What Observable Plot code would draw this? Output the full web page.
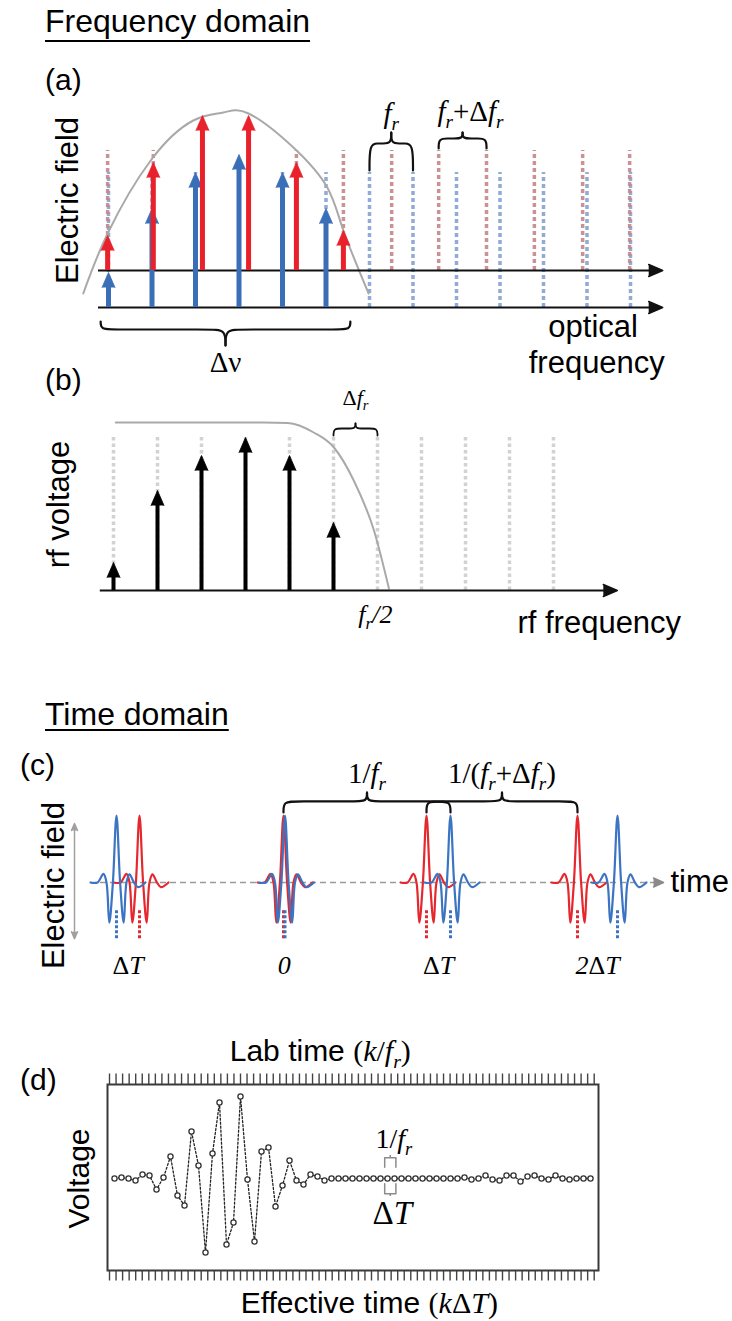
<!DOCTYPE html>
<html>
<head>
<meta charset="utf-8">
<script src="https://cdn.jsdelivr.net/npm/d3@7"></script>
<script src="https://cdn.jsdelivr.net/npm/@observablehq/plot@0.6"></script>
<style>
  html, body { margin: 0; padding: 0; background: #fff; }
  #page { position: relative; width: 732px; height: 1321px; overflow: hidden; background: #fff;
          font-family: "Liberation Sans", Arial, Helvetica, sans-serif; color: #000; }
  .txt { position: absolute; white-space: nowrap; line-height: 1; }
  .head { font-size: 32px; text-decoration: underline; text-decoration-thickness: 2px; text-decoration-skip-ink: none; }
  .tag { font-size: 30px; }
</style>
</head>
<body>
<div id="page"></div>
<script>
// ====================== DATA ======================
// (a) two optical frequency combs; positions in units of the blue comb spacing f_r
const combBlue = [0, 1, 2, 3, 4, 5, 6, 7, 8, 9, 10, 11, 12];
const combRed = [-0.02, 1.03, 2.16, 3.22, 4.32, 5.40, 6.51, 7.59, 8.69, 9.79, 10.90, 11.98];
const fieldBlue = [3.5, 9.9, 13.5, 15.3, 13.5, 9.9];      // arrow heights of blue lines 0-5
const fieldRed = [3.5, 10.8, 15.5, 15.5, 10.8, 4.0];      // arrow heights of red lines 0-5
const spectrumEnvelope = [[-0.58, 1.4], [-0.02, 7.4], [0.97, 14.7], [1.95, 18.7], [2.64, 19.5],
                          [3.22, 19.4], [4.25, 16.0], [5.03, 12.0], [5.40, 7.7], [5.98, 1.4]];
const textA = { yLabel: "Electric field", x1: "optical", x2: "frequency", width: "Δν",
                fr: "*f*_r", frd: "*f*_r+Δ*f*_r" };

// (b) rf comb after heterodyning
const combRf = [0, 1, 2, 3, 4, 5, 6, 7, 8, 9, 10];
const rfVoltage = [2.8, 10.0, 13.5, 15.3, 13.5, 6.8];
const rfEnvelope = [[0.05, 16.8], [1.98, 16.8], [3.40, 16.8], [3.96, 16.75], [4.55, 15.8],
                    [5.01, 14.3], [5.46, 11.0], [5.92, 6.0], [6.26, 0.2]];
const textB = { yLabel: "rf voltage", xLabel: "rf frequency", dfr: "Δ*f*_r", half: "*f*_r*/2*" };

// (c) pulse trains (time units), pulse shape
const peaksRed = [-14.4, 0, 14.3, 29.4];
const peaksBlue = [-16.7, 0.15, 16.7, 33.4];
const pulseDt = [-2.6, -1.9, -1.3, -1.0, -0.72, -0.36, 0, 0.36, 0.72, 1.0, 1.3, 1.75, 2.15, 2.9];
const pulseField = [0, 0, 0.13, 0, -0.6, 0, 1, 0, -0.6, 0, 0.12, 0, -0.07, 0];
const delayLabels = ["Δ*T*", "*0*", "Δ*T*", "*2*Δ*T*"];
const textC = { yLabel: "Electric field", xLabel: "time", period: "1/*f*_r", period2: "1/(*f*_r+Δ*f*_r)" };

// (d) sampled interferogram
const voltageSamples = [0, 1, 0, -2, 4, 3, -11, 1, 22, -17, -27, 47, 13, -74, 25, 76, -66, -44, 82, -1,
  -63, 27, 31, -28, -7, 18, -2, -6, 4, 2, -2, 0, 0, 0,
  0, 0, 0, 0, 0, 0, 0, 0, 0, 0, 0, 0, 0, 0, 0, 0,
  1, -1, 0, 3, -1, -2, 3, 3, -3, 2, 3, 0, -1, 3, 0, -1, 0, 0, 0];
const labTickCount = 75;
const textD = { yLabel: "Voltage", top: "Lab time ~(*k*/*f*_r)~", bottom: "Effective time ~(*k*Δ*T*)~",
                step1: "1/*f*_r", step2: "Δ*T*" };

// ====================== STYLE / LAYOUT ======================
const W = 732;
const SANS = '"Liberation Sans", Arial, Helvetica, sans-serif';
const SERIF = '"Liberation Serif", "Times New Roman", Times, serif';
const RED = "#e8212b", BLUE = "#3a6eb7";
const RED_DASH = "#c4868a", BLUE_DASH = "#8fabd6";
const RED_P = "#e5282e", BLUE_P = "#3b74c2";
const ENV = "#a9a9a9", GRAY_DOT = "#d2d2d2";

const page = document.getElementById("page");
function htmlText(text, cls, left, base, size) {
  const d = document.createElement("div");
  d.className = "txt " + cls;
  d.textContent = text;
  d.style.left = left + "px";
  d.style.top = (base - 0.8465 * size) + "px";
  page.appendChild(d);
  return d;
}
const h1 = htmlText("Frequency domain", "head", 45, 32, 32); h1.style.textUnderlineOffset = "8px";
const h2 = htmlText("Time domain", "head", 45, 725, 32); h2.style.textUnderlineOffset = "4px";
htmlText("(a)", "tag", 45, 90, 30);
htmlText("(b)", "tag", 45, 390, 30);
htmlText("(c)", "tag", 20, 775, 30);
htmlText("(d)", "tag", 20, 1090, 30);

function xDomain(px0, unit) { return [(0 - px0) / unit, (W - px0) / unit]; }
function yDomain(top, height, py0, unit) { return [(py0 - top - height) / unit, (py0 - top) / unit]; }

function arrowMarks(data, o) {
  return [
    Plot.ruleX(data, {x: "x", y1: "tip", y2: "base", stroke: o.color, strokeWidth: o.width, insetTop: o.len * 0.7}),
    Plot.vector(data, {x: "x", y: "tip", length: o.len, r: o.r, shape: "spike", anchor: "end",
                       fill: o.color, stroke: o.color, strokeWidth: 0.8})
  ];
}
function bracePoints(list) {
  const pts = [];
  list.forEach((b, i) => {
    const xc = (b.x1 + b.x2) / 2;
    [b.x1, b.x2].forEach((xe, s) => {
      const d = (xc - xe) * b.curl;
      const id = i + "-" + s;
      [[xe, b.yEnd], [xe, b.yMid], [xe + d, b.yMid], [xc - d, b.yMid], [xc, b.yMid], [xc, b.yTip]]
        .forEach(([x, y]) => pts.push({x, y, id}));
    });
  });
  return pts;
}
function braceMark(list, color, width) {
  return Plot.line(bracePoints(list), {x: "x", y: "y", z: "id", curve: "basis", stroke: color, strokeWidth: width});
}
function label(s, x, y, o) {
  return Plot.text([{x, y, s}], Object.assign({x: "x", y: "y", text: "s", fill: "#000"}, o));
}
function mount(svg, top) {
  svg.style.position = "absolute";
  svg.style.left = "0px";
  svg.style.top = top + "px";
  svg.style.overflow = "visible";
  svg.style.maxWidth = "none";
  page.appendChild(svg);
  richify(svg);
}
// tiny markup: *italic*, ~serif~, _x subscript
function richify(root) {
  root.querySelectorAll("text").forEach(t => {
    const s = t.textContent;
    if (!/[*_~]/.test(s)) return;
    const fs = parseFloat(getComputedStyle(t).fontSize) || 20;
    let italic = false, serif = false;
    const runs = [];
    for (let i = 0; i < s.length; i++) {
      const c = s[i];
      if (c === "*") { italic = !italic; continue; }
      if (c === "~") { serif = !serif; continue; }
      if (c === "_") { runs.push({text: s[++i], italic: true, serif, sub: true}); continue; }
      const last = runs[runs.length - 1];
      if (last && !last.sub && last.italic === italic && last.serif === serif) last.text += c;
      else runs.push({text: c, italic, serif, sub: false});
    }
    t.textContent = "";
    let shifted = 0;
    runs.forEach(r => {
      const ts = document.createElementNS("http://www.w3.org/2000/svg", "tspan");
      ts.textContent = r.text;
      if (r.italic) ts.setAttribute("font-style", "italic");
      if (r.serif) ts.setAttribute("font-family", SERIF);
      const target = r.sub ? 0.26 * fs : 0;
      if (target !== shifted) { ts.setAttribute("dy", (target - shifted).toFixed(2)); shifted = target; }
      if (r.sub) ts.setAttribute("font-size", (0.66 * fs).toFixed(1));
      t.appendChild(ts);
    });
  });
}

// ====================== (a) ======================
const A = {top: 40, height: 350, x0: 108, xUnit: 43.5, y0: 307, yUnit: 10,
           redBase: 3.7, dashTopBlue: 13.5, dashTopRed: 15.7, axis: [-0.23, 12.74]};
const arrowsBlueA = fieldBlue.map((v, i) => ({x: combBlue[i], base: 0, tip: v}));
const arrowsRedA = fieldRed.map((v, i) => ({x: combRed[i], base: A.redBase, tip: A.redBase + v}));
const bracesA = [
  {x1: -0.18, x2: 5.56, yEnd: -1.4, yMid: -2.2, yTip: -3.8, curl: 0.12},
  {x1: combBlue[6], x2: combBlue[7], yEnd: 13.7, yMid: 16.4, yTip: 17.5, curl: 0.4},
  {x1: combRed[7], x2: combRed[8], yEnd: 15.9, yMid: 16.9, yTip: 17.5, curl: 0.4}
];
const plotA = Plot.plot({
  width: W, height: A.height, margin: 0,
  x: {domain: xDomain(A.x0, A.xUnit), axis: null},
  y: {domain: yDomain(A.top, A.height, A.y0, A.yUnit), axis: null},
  style: {fontFamily: SANS, background: "transparent"},
  marks: [
    Plot.ruleX(combBlue, {y1: 0, y2: A.dashTopBlue, stroke: BLUE_DASH, strokeWidth: 3.5, strokeDasharray: "4,3"}),
    Plot.ruleX(combRed, {y1: A.redBase, y2: A.dashTopRed, stroke: RED_DASH, strokeWidth: 3.5, strokeDasharray: "4,3", strokeOpacity: 0.9}),
    Plot.line(spectrumEnvelope, {x: d => d[0], y: d => d[1], curve: "natural", stroke: ENV, strokeWidth: 2}),
    Plot.ruleY([0, A.redBase], {x1: A.axis[0], x2: A.axis[1], insetRight: 6, stroke: "#111", strokeWidth: 2}),
    Plot.vector([0, A.redBase], {x: A.axis[1], y: d => d, rotate: 90, length: 14, r: 6, shape: "spike", anchor: "end", fill: "#111", stroke: "#111"}),
    ...arrowMarks(arrowsBlueA, {color: BLUE, width: 5, len: 15, r: 6.5}),
    ...arrowMarks(arrowsRedA, {color: RED, width: 5, len: 15, r: 6.5}),
    braceMark(bracesA, "#111", 2.2),
    label(textA.yLabel, -0.71, 10.7, {rotate: -90, textAnchor: "middle", lineAnchor: "bottom", fontSize: 31}),
    label(textA.x1, 10.11, -2.9, {textAnchor: "start", lineAnchor: "bottom", fontSize: 31}),
    label(textA.x2, 9.66, -6.5, {textAnchor: "start", lineAnchor: "bottom", fontSize: 31}),
    label(textA.width, 2.69, -6.4, {textAnchor: "middle", lineAnchor: "bottom", fontSize: 29, fontFamily: SERIF}),
    label(textA.fr, (combBlue[6] + combBlue[7]) / 2, 18.5, {textAnchor: "middle", lineAnchor: "bottom", fontSize: 29, fontFamily: SERIF}),
    label(textA.frd, 8.32, 18.7, {textAnchor: "middle", lineAnchor: "bottom", fontSize: 29, fontFamily: SERIF})
  ]
});
mount(plotA, A.top);

// ====================== (b) ======================
const B = {top: 390, height: 270, x0: 113, xUnit: 44, y0: 590, yUnit: 10, dashTop: 15.3, axis: [-0.3, 11.45]};
const arrowsB = rfVoltage.map((v, i) => ({x: combRf[i], base: 0, tip: v}));
const bracesB = [{x1: combRf[5], x2: combRf[6], yEnd: 15.5, yMid: 16.2, yTip: 16.7, curl: 0.4}];
const plotB = Plot.plot({
  width: W, height: B.height, margin: 0,
  x: {domain: xDomain(B.x0, B.xUnit), axis: null},
  y: {domain: yDomain(B.top, B.height, B.y0, B.yUnit), axis: null},
  style: {fontFamily: SANS, background: "transparent"},
  marks: [
    Plot.ruleX(combRf, {y1: 0, y2: B.dashTop, stroke: GRAY_DOT, strokeWidth: 3.5, strokeDasharray: "3.5,3"}),
    Plot.line(rfEnvelope, {x: d => d[0], y: d => d[1], curve: "monotone-x", stroke: ENV, strokeWidth: 2}),
    Plot.ruleY([0], {x1: B.axis[0], x2: B.axis[1], insetRight: 6, stroke: "#111", strokeWidth: 2}),
    Plot.vector([0], {x: B.axis[1], y: d => d, rotate: 90, length: 14, r: 6, shape: "spike", anchor: "end", fill: "#111", stroke: "#111"}),
    ...arrowMarks(arrowsB, {color: "#000", width: 4, len: 15, r: 6.5}),
    braceMark(bracesB, "#111", 1.8),
    label(textB.yLabel, -1.02, 8.6, {rotate: -90, textAnchor: "middle", lineAnchor: "bottom", fontSize: 31}),
    label(textB.dfr, (combRf[5] + combRf[6]) / 2, 18.6, {textAnchor: "middle", lineAnchor: "bottom", fontSize: 22, fontFamily: SERIF}),
    label(textB.half, 5.95, -3.2, {textAnchor: "middle", lineAnchor: "bottom", fontSize: 26, fontFamily: SERIF}),
    label(textB.xLabel, 9.18, -4.2, {textAnchor: "start", lineAnchor: "bottom", fontSize: 31})
  ]
});
mount(plotB, B.top);

// ====================== (c) ======================
const C = {top: 700, height: 300, x0: 283, xUnit: 10, y0: 882, yUnit: 67,
           axis: [-19.3, 38.0], scaleBar: {t: -20.9, lo: -0.84, hi: 0.88}, marker: [-0.42, -0.87]};
function pulseTrain(peaks, tag) {
  const out = [];
  peaks.forEach((p, j) => pulseDt.forEach((dt, i) => out.push({t: p + dt, v: pulseField[i], id: tag + j})));
  return out;
}
const bracesC = [
  {x1: peaksRed[1], x2: peaksBlue[2], yEnd: 1.045, yMid: 1.21, yTip: 1.34, curl: 0.15},
  {x1: peaksRed[2], x2: peaksRed[3], yEnd: 1.045, yMid: 1.21, yTip: 1.34, curl: 0.15}
];
const plotC = Plot.plot({
  width: W, height: C.height, margin: 0,
  x: {domain: xDomain(C.x0, C.xUnit), axis: null},
  y: {domain: yDomain(C.top, C.height, C.y0, C.yUnit), axis: null},
  style: {fontFamily: SANS, background: "transparent"},
  marks: [
    Plot.ruleY([0], {x1: C.axis[0], x2: C.axis[1], insetRight: 8, stroke: "#9a9a9a", strokeWidth: 1.5, strokeDasharray: "6,4"}),
    Plot.vector([0], {x: C.axis[1], y: d => d, rotate: 90, length: 10, r: 4.5, shape: "spike", anchor: "end", fill: "#8a8a8a", stroke: "#8a8a8a"}),
    Plot.ruleX([C.scaleBar.t], {y1: C.scaleBar.hi, y2: C.scaleBar.lo, insetTop: 4, insetBottom: 4, stroke: "#a0a0a0", strokeWidth: 1.5}),
    Plot.vector([{y: C.scaleBar.hi, a: 0}, {y: C.scaleBar.lo, a: 180}], {x: C.scaleBar.t, y: "y", rotate: "a", length: 7, r: 3, shape: "spike", anchor: "end", fill: "#a0a0a0", stroke: "#a0a0a0"}),
    Plot.line(pulseTrain(peaksRed, "r"), {x: "t", y: "v", z: "id", curve: "catmull-rom", stroke: RED_P, strokeWidth: 2.2}),
    Plot.line(pulseTrain(peaksBlue, "b"), {x: "t", y: "v", z: "id", curve: "catmull-rom", stroke: BLUE_P, strokeWidth: 2.2}),
    Plot.ruleX(peaksRed, {y1: C.marker[0], y2: C.marker[1], stroke: RED_P, strokeWidth: 3, strokeDasharray: "3,2"}),
    Plot.ruleX(peaksBlue, {y1: C.marker[0], y2: C.marker[1], stroke: BLUE_P, strokeWidth: 3, strokeDasharray: "3,2"}),
    braceMark(bracesC, "#111", 2.2),
    label(textC.period, (peaksRed[1] + peaksBlue[2]) / 2, 1.49, {textAnchor: "middle", lineAnchor: "bottom", fontSize: 29, fontFamily: SERIF}),
    label(textC.period2, (peaksRed[2] + peaksRed[3]) / 2, 1.49, {textAnchor: "middle", lineAnchor: "bottom", fontSize: 29, fontFamily: SERIF}),
    Plot.text(delayLabels.map((s, i) => ({s, t: (peaksRed[i] + peaksBlue[i]) / 2})),
              {x: "t", y: -1.36, text: "s", textAnchor: "middle", lineAnchor: "bottom", fontSize: 26, fontFamily: SERIF, fill: "#000"}),
    label(textC.xLabel, 38.7, 0, {textAnchor: "start", lineAnchor: "middle", fontSize: 31}),
    label(textC.yLabel, -22.0, -0.045, {rotate: -90, textAnchor: "middle", lineAnchor: "bottom", fontSize: 31})
  ]
});
mount(plotC, C.top);

// ====================== (d) ======================
const D = {top: 1010, height: 311, box: {left: 107, right: 598, top: 1084, bottom: 1270}, x0: 114, xUnit: 7, y0: 1178};
const samples = voltageSamples.map((v, k) => ({k, v}));
const tickStep = 0.9357, tickStart = -0.714;
const labTicks = d3.range(labTickCount).map(j => tickStart + j * tickStep);
const yDomD = [D.y0 - D.box.bottom, D.y0 - D.box.top];
const bracketsD = [
  {k1: 38.6, k2: 40.2, near: 11.3, far: 20.7, nub: 23},
  {k1: 38.6, k2: 40.2, near: -5.3, far: -15.3, nub: -18}
];
const bracketPts = [];
bracketsD.forEach((b, i) => [[b.k1, b.near], [b.k1, b.far], [b.k2, b.far], [b.k2, b.near]]
  .forEach(([k, v]) => bracketPts.push({k, v, id: i})));
const plotD = Plot.plot({
  width: W, height: D.height,
  marginLeft: D.box.left, marginRight: W - D.box.right,
  marginTop: D.box.top - D.top, marginBottom: D.top + D.height - D.box.bottom,
  x: {domain: [(D.box.left - D.x0) / D.xUnit, (D.box.right - D.x0) / D.xUnit], axis: null},
  y: {domain: yDomD, axis: null},
  style: {fontFamily: SANS, background: "transparent"},
  marks: [
    Plot.ruleX(labTicks, {y1: yDomD[1], y2: yDomD[1] + 10.5, stroke: "#444", strokeWidth: 1.4}),
    Plot.ruleX(labTicks, {y1: yDomD[0], y2: yDomD[0] - 10.5, stroke: "#444", strokeWidth: 1.4}),
    Plot.frame({stroke: "#3a3a3a", strokeWidth: 2}),
    Plot.line(bracketPts, {x: "k", y: "v", z: "id", stroke: "#8c8c8c", strokeWidth: 1.5}),
    Plot.ruleX(bracketsD, {x: d => (d.k1 + d.k2) / 2, y1: "far", y2: "nub", stroke: "#8c8c8c", strokeWidth: 1.5}),
    Plot.line(samples, {x: "k", y: "v", stroke: "#222", strokeWidth: 1.3, strokeDasharray: "2,2"}),
    Plot.dot(samples, {x: "k", y: "v", r: 2.6, stroke: "#333", fill: "white", strokeWidth: 1.3}),
    label(textD.step1, 39.9, 30.7, {textAnchor: "middle", lineAnchor: "bottom", fontSize: 28, fontFamily: SERIF}),
    label(textD.step2, 39.7, -45.3, {textAnchor: "middle", lineAnchor: "bottom", fontSize: 33, fontFamily: SERIF}),
    label(textD.top, 29.4, 118, {textAnchor: "middle", lineAnchor: "bottom", fontSize: 30}),
    label(textD.bottom, 36.4, -134, {textAnchor: "middle", lineAnchor: "bottom", fontSize: 30}),
    label(textD.yLabel, -3.7, 0, {rotate: -90, textAnchor: "middle", lineAnchor: "bottom", fontSize: 30})
  ]
});
mount(plotD, D.top);
</script>
</body>
</html>
